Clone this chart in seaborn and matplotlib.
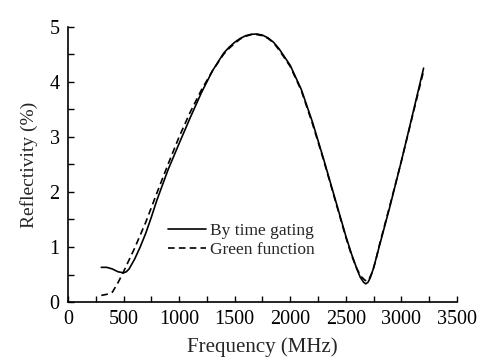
import numpy as np
import pandas as pd
import matplotlib
matplotlib.use("Agg")
import matplotlib.pyplot as plt
import seaborn as sns

# Data
freq_gating = [300, 350, 400, 450, 500, 525, 550, 600, 650, 700, 750, 800, 900, 1000, 1100, 1200, 1300,
               1400, 1450, 1500, 1550, 1600, 1650, 1700, 1750, 1800, 1850, 1900, 2000, 2100, 2200,
               2300, 2400, 2500, 2550, 2600, 2630, 2660, 2680, 2700, 2720, 2750, 2800, 2900, 3000,
               3100, 3200]
refl_gating = [0.63, 0.63, 0.60, 0.55, 0.53, 0.55, 0.60, 0.78, 1.00, 1.25, 1.54, 1.85, 2.40, 2.88, 3.35, 3.80, 4.20,
               4.52, 4.63, 4.72, 4.79, 4.84, 4.865, 4.87, 4.85, 4.80, 4.72, 4.60, 4.30, 3.86, 3.27,
               2.60, 1.90, 1.20, 0.88, 0.60, 0.45, 0.36, 0.33, 0.36, 0.44, 0.62, 1.00, 1.76, 2.56,
               3.40, 4.25]

freq_green = [300, 350, 400, 450, 500, 600, 700, 800, 900, 1000, 1100, 1200, 1300,
              1400, 1450, 1500, 1550, 1600, 1650, 1700, 1750, 1800, 1850, 1900, 2000, 2100, 2200,
              2300, 2400, 2500, 2550, 2600, 2640, 2670, 2690, 2710, 2740, 2770, 2800, 2900, 3000,
              3100, 3200]
refl_green = [0.12, 0.14, 0.18, 0.35, 0.55, 0.98, 1.45, 1.98, 2.50, 3.00, 3.45, 3.85, 4.20,
              4.50, 4.61, 4.70, 4.78, 4.83, 4.86, 4.86, 4.84, 4.79, 4.71, 4.58, 4.28, 3.84, 3.24,
              2.58, 1.88, 1.18, 0.86, 0.60, 0.46, 0.40, 0.38, 0.42, 0.55, 0.76, 1.02, 1.78, 2.56,
              3.38, 4.20]

series_names = ["By time gating", "Green function"]

df = pd.concat([
    pd.DataFrame({"Frequency": freq_gating, "Reflectivity": refl_gating, "Series": series_names[0]}),
    pd.DataFrame({"Frequency": freq_green, "Reflectivity": refl_green, "Series": series_names[1]}),
])

sns.set_style("ticks")
plt.rcParams["font.family"] = ["Liberation Serif", "DejaVu Serif"]

fig = plt.figure(figsize=(4.82, 3.63), dpi=100)
ax = fig.add_axes([0.141, 0.168, 0.807, 0.758])

sns.lineplot(data=df, x="Frequency", y="Reflectivity", hue="Series", style="Series",
             palette=["black", "black"], dashes=[(None, None), (4, 2.5)],
             linewidth=1.2, ax=ax, sort=False)

ax.set_xlim(0, 3500)
ax.set_ylim(0, 5)
ax.set_xticks(np.arange(0, 3501, 500))
ax.set_xticks(np.arange(0, 3501, 250), minor=True)
ax.set_yticks(np.arange(0, 6, 1))
ax.set_yticks(np.arange(0, 5.01, 0.5), minor=True)
ax.tick_params(axis="both", which="both", direction="in", length=4, width=1,
               labelsize=14.5, colors="black")
ax.tick_params(axis="x", which="major", pad=6)
ax.tick_params(axis="y", which="major", pad=6)
for s in ["top", "right"]:
    ax.spines[s].set_visible(False)
for s in ["left", "bottom"]:
    ax.spines[s].set_linewidth(1.2)
    ax.spines[s].set_color("black")

ax.set_xlabel("Frequency (MHz)", fontsize=15, labelpad=6)
ax.set_ylabel("Reflectivity (%)", fontsize=14, labelpad=8)

leg = ax.legend(title=None, frameon=False, fontsize=12.5, loc="lower left",
                bbox_to_anchor=(0.24, 0.135), handlelength=2.2, handletextpad=0.2,
                labelspacing=0.15, borderaxespad=0)
for line in leg.get_lines():
    line.set_linewidth(1.2)

fig.savefig("out.png", dpi=100)
